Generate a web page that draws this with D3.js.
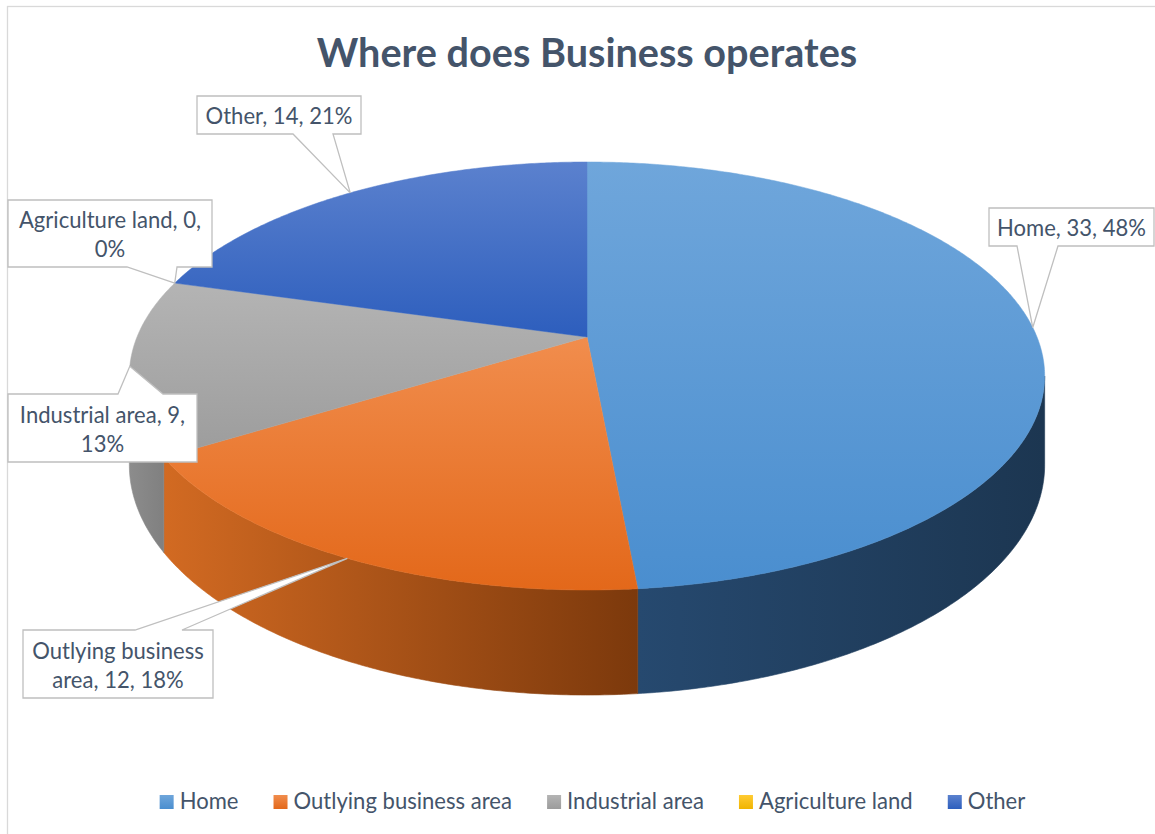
<!DOCTYPE html>
<html>
<head>
<meta charset="utf-8">
<script src="https://cdn.jsdelivr.net/npm/d3@7"></script>
<style>
  html, body { margin: 0; padding: 0; background: #fff; }
  svg { display: block; }
</style>
</head>
<body>
<svg id="chart" width="1155" height="834"></svg>
<script>
// Survey answers: where the business operates
const categories = ["Home", "Outlying business area", "Industrial area", "Agriculture land", "Other"];
const counts = [33, 12, 9, 0, 14];
const percentLabels = [48, 18, 13, 0, 21];
const chartTitle = "Where does Business operates";

// Office palette face gradients (top faces lit from above, rims shaded left to right)
const topStops = [
  ["#6fa6db", "#4a8ecf"],
  ["#f18d4d", "#e3681a"],
  ["#b4b4b4", "#9c9c9c"],
  ["#ffcb33", "#f0b400"],
  ["#5b81ce", "#2d5ebd"]
];
const sideStops = [
  ["#26496f", "#1c3651"],
  ["#d26a22", "#7c390c"],
  ["#8c8c8c", "#808080"],
  ["#c89400", "#a07600"],
  ["#2a4d8f", "#213d72"]
];

// Callout boxes: box rectangle, edge carrying the pointer, pointer base span
const callouts = [
  { x: 989, y: 208, w: 165, h: 38, edge: "bottom", b0: 1017, b1: 1058 },
  { x: 23,  y: 630, w: 190, h: 68, edge: "top",    b0: 135,  b1: 182 },
  { x: 8,   y: 394, w: 189, h: 68, edge: "top",    b0: 118,  b1: 163 },
  { x: 8,   y: 200, w: 204, h: 67, edge: "bottom", b0: 127,  b1: 177 },
  { x: 197, y: 96,  w: 164, h: 38, edge: "bottom", b0: 293,  b1: 333 }
];

const W = 1155, H = 834;
const FONT = "Lato, 'Open Sans', sans-serif";
const TEXT_COLOR = "#44546a";
const CONDENSE = 0.92;
const FS = 24;

// Perspective disc: centre, radii, foreshortening and thickness
const CX = 587, CY = 337, RX = 450, RY = 206.9, K = 0.1822, DEPTH = 85.9;

function project(phi, h) {
  const s = Math.sin(phi), c = Math.cos(phi), w = 1 - K * s;
  return [CX + RX * c / w, CY + (RY * s + DEPTH * h) / w];
}
// angle measured clockwise from 12 o'clock -> parametric angle
const toPhi = a => a - Math.PI / 2;

const svg = d3.select("#chart");
const defs = svg.append("defs");

// chart frame
svg.append("rect")
  .attr("x", 7.5).attr("y", 6.5).attr("width", W + 20).attr("height", H + 20)
  .attr("fill", "#fff").attr("stroke", "#d9d9d9").attr("stroke-width", 1.3);

const pie = d3.pie().sort(null).value(d => d).startAngle(0).endAngle(2 * Math.PI);
const arcs = pie(counts);

function arcPoints(p0, p1, h) {
  const n = Math.max(2, Math.ceil(Math.abs(p1 - p0) / (Math.PI / 360)));
  return d3.range(n + 1).map(i => project(p0 + (p1 - p0) * i / n, h));
}
const line = d3.line();

// visible rim runs between the two silhouette angles
const rimStart = Math.asin(K), rimEnd = Math.PI - Math.asin(K);

const sideLayer = svg.append("g");
const topLayer = svg.append("g");

arcs.forEach((a, i) => {
  const p0 = toPhi(a.startAngle), p1 = toPhi(a.endAngle);
  if (p1 - p0 <= 0) return;

  // rim
  const s0 = Math.max(p0, rimStart), s1 = Math.min(p1, rimEnd);
  if (s1 > s0) {
    const upper = arcPoints(s0, s1, 0);
    const lower = arcPoints(s1, s0, 1);
    const pts = upper.concat(lower);
    const xs = d3.extent(pts, d => d[0]);
    const gid = "side" + i;
    const g = defs.append("linearGradient").attr("id", gid)
      .attr("gradientUnits", "userSpaceOnUse")
      .attr("x1", xs[0]).attr("x2", xs[1]).attr("y1", 0).attr("y2", 0);
    g.append("stop").attr("offset", 0).attr("stop-color", sideStops[i][0]);
    g.append("stop").attr("offset", 1).attr("stop-color", sideStops[i][1]);
    sideLayer.append("path")
      .attr("d", line(pts) + "Z")
      .attr("fill", `url(#${gid})`)
      .attr("stroke", `url(#${gid})`).attr("stroke-width", 0.6);
  }

  // top face
  const tid = "top" + i;
  const tg = defs.append("linearGradient").attr("id", tid)
    .attr("x1", 0).attr("x2", 0).attr("y1", 0).attr("y2", 1);
  tg.append("stop").attr("offset", 0).attr("stop-color", topStops[i][0]);
  tg.append("stop").attr("offset", 1).attr("stop-color", topStops[i][1]);
  const facePts = [[CX, CY]].concat(arcPoints(p0, p1, 0));
  topLayer.append("path")
    .attr("d", line(facePts) + "Z")
    .attr("fill", `url(#${tid})`)
    .attr("stroke", `url(#${tid})`).attr("stroke-width", 0.5);
});

// Title
const titleX = 587, titleScale = 0.99;
svg.append("text")
  .attr("x", titleX).attr("y", 67)
  .attr("text-anchor", "middle")
  .attr("font-family", FONT).attr("font-weight", 700).attr("font-size", 40)
  .attr("fill", TEXT_COLOR)
  .attr("transform", `translate(${titleX * (1 - titleScale)},0) scale(${titleScale},1)`)
  .text(chartTitle);

// Data labels in callouts
const labelLayer = svg.append("g");
const measure = svg.append("text").attr("font-family", FONT).attr("font-size", FS).attr("visibility", "hidden");
function textWidth(s) { measure.text(s); return measure.node().getComputedTextLength() * CONDENSE; }

arcs.forEach((a, i) => {
  const c = callouts[i];
  const mid = toPhi((a.startAngle + a.endAngle) / 2);
  const [ax, ay] = project(mid, 0);
  let d;
  if (c.edge === "bottom") {
    d = `M${c.x},${c.y}H${c.x + c.w}V${c.y + c.h}H${c.b1}L${ax},${ay}L${c.b0},${c.y + c.h}H${c.x}Z`;
  } else {
    d = `M${c.x},${c.y}H${c.b0}L${ax},${ay}L${c.b1},${c.y}H${c.x + c.w}V${c.y + c.h}H${c.x}Z`;
  }
  labelLayer.append("path").attr("d", d)
    .attr("fill", "#fff").attr("stroke", "#bfbfbf").attr("stroke-width", 1.3)
    .attr("stroke-linejoin", "miter");

  const full = `${categories[i]}, ${counts[i]}, ${percentLabels[i]}%`;
  const words = full.split(" ");
  const lines = [];
  let cur = "";
  words.forEach(wd => {
    const trial = cur ? cur + " " + wd : wd;
    if (cur && textWidth(trial) > c.w - 10) { lines.push(cur); cur = wd; }
    else cur = trial;
  });
  lines.push(cur);
  const lh = 29;
  const first = c.y + (c.h - (lines.length - 1) * lh) / 2 + 9.5;
  const tx = c.x + c.w / 2;
  lines.forEach((ln, j) => {
    labelLayer.append("text")
      .attr("x", tx).attr("y", first + j * lh)
      .attr("text-anchor", "middle")
      .attr("font-family", FONT).attr("font-size", FS)
      .attr("fill", TEXT_COLOR)
      .attr("transform", `translate(${tx * (1 - CONDENSE)},0) scale(${CONDENSE},1)`)
      .text(ln);
  });
});

// Legend
const legend = svg.append("g");
const items = categories.map((c, i) => ({ name: c, tw: textWidth(c) }));
const SW = 14, GAP_IN = 6, GAP_OUT = 35;
const totalW = d3.sum(items, d => SW + GAP_IN + d.tw) + GAP_OUT * (items.length - 1);
let lx = 592.5 - totalW / 2;
items.forEach((it, i) => {
  const lg = defs.append("linearGradient").attr("id", "lg" + i)
    .attr("x1", 0).attr("x2", 0).attr("y1", 0).attr("y2", 1);
  lg.append("stop").attr("offset", 0).attr("stop-color", topStops[i][0]);
  lg.append("stop").attr("offset", 1).attr("stop-color", topStops[i][1]);
  legend.append("rect").attr("x", lx).attr("y", 795).attr("width", SW).attr("height", SW)
    .attr("fill", `url(#lg${i})`);
  const tx = lx + SW + GAP_IN;
  legend.append("text")
    .attr("x", tx).attr("y", 809)
    .attr("font-family", FONT).attr("font-size", FS)
    .attr("fill", TEXT_COLOR)
    .attr("transform", `translate(${tx * (1 - CONDENSE)},0) scale(${CONDENSE},1)`)
    .text(it.name);
  lx = tx + it.tw + GAP_OUT;
});
measure.remove();
</script>
</body>
</html>
